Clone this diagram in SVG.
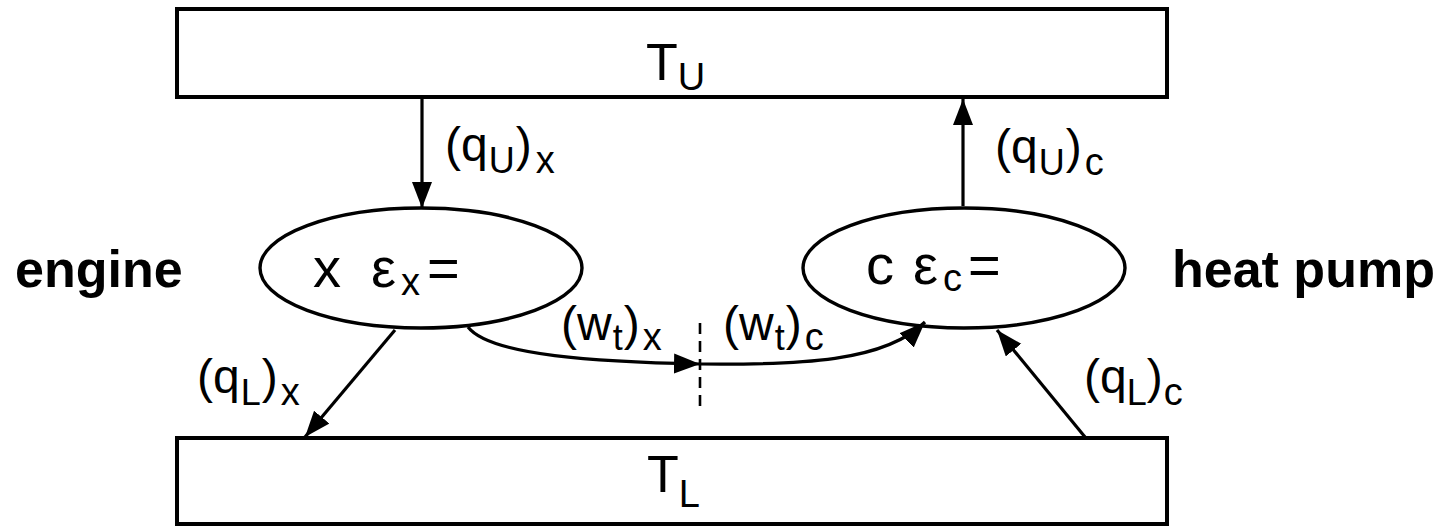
<svg xmlns="http://www.w3.org/2000/svg" width="1443" height="527" viewBox="0 0 1443 527">
<style>
.box{fill:#fff;stroke:#000;stroke-width:4}
.ell{fill:#fff;stroke:#000;stroke-width:3.4}
.ln{fill:none;stroke:#000;stroke-width:3.2}
.dash{fill:none;stroke:#000;stroke-width:2.6;stroke-dasharray:11 7}
text{font-family:"Liberation Sans",Arial,sans-serif;fill:#000}
.lab{font-size:48px}
.sub{font-size:36px}
.sub2{font-size:38px}
.big{font-size:56px}
.bold{font-size:52px;font-weight:bold}
.tl{font-size:52px}
.tls{font-size:38px}
</style>
<defs>
<marker id="ah" markerUnits="userSpaceOnUse" markerWidth="28" markerHeight="22" refX="26" refY="10" orient="auto">
<path d="M0,0 L26,10 L0,20 z" fill="#000"/>
</marker>
</defs>
<rect width="1443" height="527" fill="#fff"/>
<g id="reservoir-upper">
<rect class="box" x="177" y="9" width="990" height="88"/>
<text x="646" y="80" class="tl">T<tspan class="tls" dy="10">U</tspan></text>
</g>
<g id="reservoir-lower">
<rect class="box" x="177" y="438" width="990" height="86"/>
<text x="647" y="492" class="tl">T<tspan class="tls" dy="15">L</tspan></text>
</g>
<g id="engine-x">
<ellipse class="ell" cx="421" cy="268" rx="161" ry="60"/>
<text x="313" y="287" class="big">x<tspan x="371">ε</tspan><tspan class="sub2" dy="8" x="401">x</tspan><tspan dy="-8" x="427">=</tspan></text>
</g>
<g id="pump-c">
<ellipse class="ell" cx="964" cy="268" rx="161" ry="60"/>
<text x="866" y="284" class="big">c<tspan x="913">ε</tspan><tspan class="sub2" dy="7" x="943">c</tspan><tspan dy="-7" x="968">=</tspan></text>
</g>
<g id="label-engine"><text x="15" y="287" class="bold">engine</text></g>
<g id="label-heatpump"><text x="1172" y="287" class="bold">heat pump</text></g>
<g id="connectors">
<line class="ln" x1="422" y1="97" x2="422" y2="208" marker-end="url(#ah)"/>
<line class="ln" x1="963" y1="206" x2="963" y2="99" marker-end="url(#ah)"/>
<line class="ln" x1="395" y1="330" x2="305" y2="437" marker-end="url(#ah)"/>
<line class="ln" x1="1085" y1="437" x2="997" y2="330" marker-end="url(#ah)"/>
<path class="ln" d="M468,327 C490,356 600,362 700,364" marker-end="url(#ah)"/>
<path class="ln" d="M700,364 C800,365 885,362 925,322" marker-end="url(#ah)"/>
<line class="dash" x1="700" y1="323" x2="700" y2="408"/>
</g>
<g id="connector-labels">
<text x="445" y="161" class="lab">(q<tspan class="sub" dy="12" dx="1">U</tspan><tspan dy="-12" dx="1">)</tspan><tspan class="sub2" dy="12" dx="4">x</tspan></text>
<text x="995" y="163" class="lab">(q<tspan class="sub" dy="12" dx="1">U</tspan><tspan dy="-12" dx="1">)</tspan><tspan class="sub2" dy="12" dx="3">c</tspan></text>
<text x="197" y="393" class="lab">(q<tspan class="sub" dy="12" dx="1">L</tspan><tspan dy="-12" dx="1">)</tspan><tspan class="sub2" dy="12" dx="3">x</tspan></text>
<text x="1084" y="393" class="lab">(q<tspan class="sub" dy="12">L</tspan><tspan dy="-12">)</tspan><tspan class="sub2" dy="12" dx="1">c</tspan></text>
<text x="561" y="340" class="lab">(w<tspan class="sub" dy="10" dx="1">t</tspan><tspan dy="-10" dx="1">)</tspan><tspan class="sub2" dy="10" dx="3">x</tspan></text>
<text x="723" y="340" class="lab">(w<tspan class="sub" dy="10" dx="1">t</tspan><tspan dy="-10" dx="1">)</tspan><tspan class="sub2" dy="10" dx="3">c</tspan></text>
</g>
</svg>
